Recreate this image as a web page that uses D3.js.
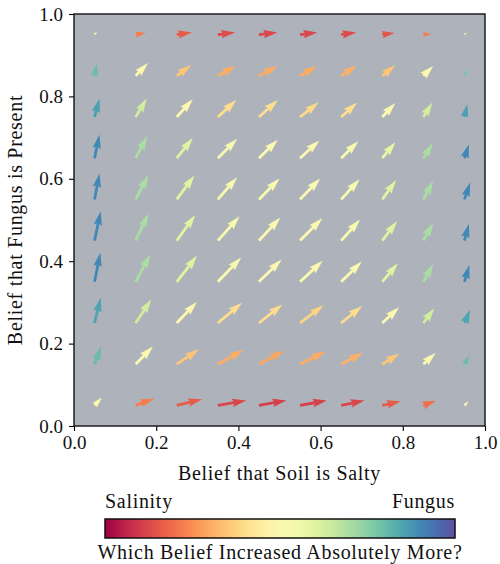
<!DOCTYPE html>
<html>
<head>
<meta charset="utf-8">
<script src="https://cdn.jsdelivr.net/npm/d3@7"></script>
<style>
  body { margin: 0; background: white; }
  svg text { font-family: "Liberation Serif", "Times New Roman", "DejaVu Serif", serif !important; fill: #111; }
</style>
</head>
<body>
<div id="canvas"></div>
<script>
"use strict"

let svgWidth = 500
let svgHeight = 564

/* plot box (pixels) */
let plotLeft = 74
let plotRight = 485
let plotTop = 14
let plotBottom = 426

let serif = "'Liberation Serif', 'Times New Roman', 'DejaVu Serif', serif"

/* grid positions of the arrow tails */
let xGrid = [0.05, 0.15, 0.25, 0.35, 0.45, 0.55, 0.65, 0.75, 0.85, 0.95]
let yGrid = [0.05, 0.15, 0.25, 0.35, 0.45, 0.55, 0.65, 0.75, 0.85, 0.95]

/* arrow x components (hundredths of axis), one row per yGrid value, bottom first */
let uRows = [
    [1.8, 4.5, 6.2, 6.9, 6.7, 6.5, 5.7, 4.5, 3.1, 1.0],
    [1.6, 4.2, 5.4, 6.3, 6.1, 6.2, 5.3, 4.2, 3.0, 1.2],
    [1.5, 3.8, 4.9, 5.9, 5.7, 5.7, 5.1, 4.1, 2.7, 1.4],
    [1.4, 3.6, 4.9, 5.7, 5.5, 5.5, 5.0, 3.8, 2.4, 1.2],
    [1.5, 3.1, 4.5, 5.3, 5.2, 5.4, 4.6, 3.6, 2.4, 1.1],
    [1.2, 3.1, 4.3, 4.7, 5.0, 4.9, 4.5, 3.4, 2.4, 1.4],
    [1.2, 2.8, 3.9, 4.7, 4.6, 4.7, 4.2, 3.2, 2.3, 1.1],
    [1.2, 2.7, 3.9, 4.5, 4.6, 4.5, 3.9, 3.2, 2.2, 0.7],
    [0.5, 3.0, 3.5, 4.4, 4.6, 4.1, 3.8, 3.2, 2.4, 0.5],
    [0.6, 2.5, 3.7, 4.2, 4.5, 4.2, 3.7, 3.0, 2.0, 0.6]
]

/* arrow y components (hundredths of axis) */
let vRows = [
    [1.9, 1.7, 1.5, 1.2, 1.2, 1.2, 1.2, 1.0, 1.1, 1.0],
    [4.3, 4.3, 3.6, 3.5, 3.2, 3.1, 2.8, 2.6, 2.8, 2.1],
    [6.1, 5.7, 5.1, 4.9, 4.5, 4.3, 4.1, 3.8, 3.6, 3.2],
    [7.1, 6.7, 6.3, 5.9, 5.4, 5.1, 4.9, 4.5, 4.3, 4.1],
    [7.1, 6.5, 6.2, 5.9, 5.6, 5.4, 5.1, 4.7, 4.3, 4.1],
    [6.3, 5.9, 5.8, 5.4, 5.1, 5.1, 4.9, 4.7, 4.5, 4.1],
    [5.7, 5.3, 4.9, 4.7, 4.5, 4.3, 4.1, 3.9, 3.6, 3.4],
    [4.5, 4.5, 4.3, 4.1, 4.1, 3.6, 3.5, 3.4, 3.5, 3.1],
    [2.9, 3.1, 2.6, 2.4, 2.4, 2.3, 2.5, 2.6, 2.4, 1.7],
    [0.7, 0.4, 0.5, 0.5, 0.5, 0.5, 0.5, 0.4, 0.2, 0.5]
]

/* colour value: 0 = salinity grew more, 1 = fungus grew more */
let cRows = [
    [0.50, 0.22, 0.16, 0.12, 0.11, 0.11, 0.12, 0.16, 0.20, 0.50],
    [0.80, 0.50, 0.35, 0.30, 0.29, 0.30, 0.31, 0.35, 0.50, 0.80],
    [0.85, 0.63, 0.50, 0.40, 0.40, 0.38, 0.40, 0.50, 0.63, 0.85],
    [0.90, 0.70, 0.60, 0.52, 0.50, 0.50, 0.51, 0.60, 0.70, 0.90],
    [0.90, 0.70, 0.60, 0.53, 0.50, 0.50, 0.52, 0.60, 0.70, 0.90],
    [0.90, 0.70, 0.60, 0.53, 0.51, 0.50, 0.53, 0.60, 0.70, 0.90],
    [0.90, 0.70, 0.60, 0.52, 0.50, 0.50, 0.52, 0.58, 0.70, 0.90],
    [0.86, 0.63, 0.50, 0.40, 0.40, 0.39, 0.40, 0.50, 0.63, 0.86],
    [0.80, 0.50, 0.35, 0.30, 0.30, 0.30, 0.31, 0.35, 0.50, 0.78],
    [0.50, 0.22, 0.16, 0.13, 0.12, 0.12, 0.13, 0.15, 0.22, 0.50]
]

let axisTicks = [0, 0.2, 0.4, 0.6, 0.8, 1.0]

/* build flat list of arrows */
let arrows = []
yGrid.forEach(function(yv, j) {
    xGrid.forEach(function(xv, i) {
        arrows.push({x: xv, y: yv, u: uRows[j][i], v: vRows[j][i], c: cRows[j][i]})
    })
})

let svg = d3.select("#canvas")
    .append("svg")
    .attr("width", svgWidth)
    .attr("height", svgHeight)

let xScale = d3.scaleLinear()
    .domain([0, 1])
    .range([plotLeft, plotRight])

let yScale = d3.scaleLinear()
    .domain([0, 1])
    .range([plotBottom, plotTop])

/* plot background */
svg.append("rect")
    .attr("x", plotLeft)
    .attr("y", plotTop)
    .attr("width", plotRight - plotLeft)
    .attr("height", plotBottom - plotTop)
    .attr("fill", "#aeb3bb")

/* matplotlib-style quiver arrow polygon, pointing along +x */
let shaftW = 2.8
function arrowPoints(len) {
    let L = len / shaftW
    let minsh = 5
    let xs, ys = [-0.5, -0.5, -1.5, 0, 1.5, 0.5, 0.5]
    let k = 1
    if (L >= minsh) {
        xs = [0, L - 4.5, L - 5, L, L - 5, L - 4.5, 0]
    } else {
        xs = [0, 0.5, 0, 5, 0, 0.5, 0]
        k = L / minsh
    }
    return xs.map(function(x, i) {
        return (x * k * shaftW).toFixed(2) + "," + (ys[i] * k * shaftW).toFixed(2)
    }).join(" ")
}

svg.selectAll("polygon.arrow")
    .data(arrows)
    .join("polygon")
    .attr("class", "arrow")
    .attr("points", function(d) {
        let dx = xScale(d.u / 100) - xScale(0)
        let dy = yScale(0) - yScale(d.v / 100)
        return arrowPoints(Math.sqrt(dx * dx + dy * dy))
    })
    .attr("transform", function(d) {
        let dx = xScale(d.u / 100) - xScale(0)
        let dy = yScale(0) - yScale(d.v / 100)
        let ang = Math.atan2(-dy, dx) * 180 / Math.PI
        return "translate(" + xScale(d.x) + "," + yScale(d.y) + ") rotate(" + ang + ")"
    })
    .attr("fill", function(d) { return d3.interpolateSpectral(d.c) })

/* axes */
let fmt = d3.format(".1f")

function styleAxis(g) {
    g.attr("font-family", serif)
    g.select(".domain").remove()
    g.selectAll("line").attr("stroke", "#000").attr("stroke-width", 1.1)
    g.selectAll("text")
        .style("font-family", serif)
        .style("font-size", "19px")
        .attr("fill", "#111")
}

svg.append("g")
    .attr("transform", "translate(0," + plotBottom + ")")
    .call(d3.axisBottom(xScale).tickValues(axisTicks).tickFormat(fmt).tickSize(5).tickPadding(5))
    .call(styleAxis)

svg.append("g")
    .attr("transform", "translate(" + plotLeft + ",0)")
    .call(d3.axisLeft(yScale).tickValues(axisTicks).tickFormat(fmt).tickSize(5).tickPadding(6))
    .call(styleAxis)

/* frame */
svg.append("rect")
    .attr("x", plotLeft)
    .attr("y", plotTop)
    .attr("width", plotRight - plotLeft)
    .attr("height", plotBottom - plotTop)
    .attr("fill", "none")
    .attr("stroke", "#111")
    .attr("stroke-width", 1.4)

/* axis labels */
function label(sel) {
    sel.style("font-family", serif)
        .style("font-size", "20px")
        .attr("letter-spacing", 0.7)
}

svg.append("text")
    .attr("x", (plotLeft + plotRight) / 2)
    .attr("y", 480)
    .attr("text-anchor", "middle")
    .call(label)
    .text("Belief that Soil is Salty")

svg.append("text")
    .attr("transform", "translate(22," + (plotTop + plotBottom) / 2 + ") rotate(-90)")
    .attr("text-anchor", "middle")
    .call(label)
    .text("Belief that Fungus is Present")

/* colour bar */
let barLeft = 105
let barRight = 455
let barTop = 519
let barBottom = 538

let grad = svg.append("defs")
    .append("linearGradient")
    .attr("id", "spectral")
    .attr("x1", "0%").attr("x2", "100%")
    .attr("y1", "0%").attr("y2", "0%")

grad.selectAll("stop")
    .data(d3.range(0, 1.0001, 0.05))
    .join("stop")
    .attr("offset", function(t) { return (t * 100) + "%" })
    .attr("stop-color", function(t) { return d3.interpolateSpectral(t) })

svg.append("rect")
    .attr("x", barLeft)
    .attr("y", barTop)
    .attr("width", barRight - barLeft)
    .attr("height", barBottom - barTop)
    .attr("fill", "url(#spectral)")
    .attr("stroke", "#111")
    .attr("stroke-width", 1.5)

svg.append("text")
    .attr("x", barLeft)
    .attr("y", 508)
    .call(label)
    .text("Salinity")

svg.append("text")
    .attr("x", barRight)
    .attr("y", 508)
    .attr("text-anchor", "end")
    .call(label)
    .text("Fungus")

svg.append("text")
    .attr("x", (barLeft + barRight) / 2)
    .attr("y", 559)
    .attr("text-anchor", "middle")
    .call(label)
    .text("Which Belief Increased Absolutely More?")
</script>
</body>
</html>
